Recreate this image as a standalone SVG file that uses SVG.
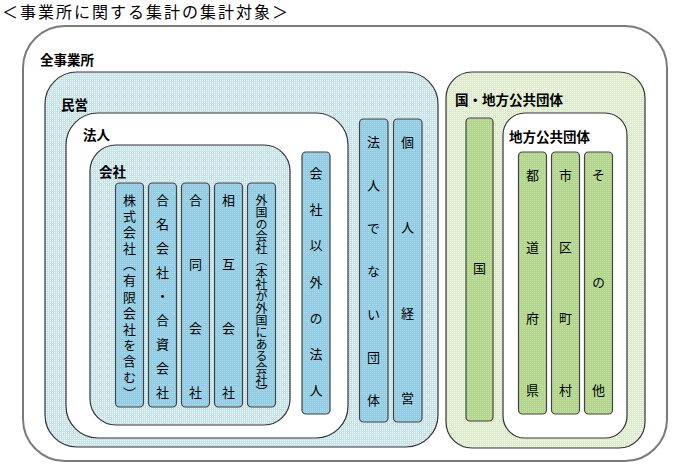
<svg xmlns="http://www.w3.org/2000/svg" width="690" height="470" viewBox="0 0 690 470">
<defs>
<pattern id="pBlueBox" patternUnits="userSpaceOnUse" width="2" height="2">
<rect width="2" height="2" fill="#c4e3ef"/><rect width="1" height="1" fill="#f4fafc"/>
</pattern>
<pattern id="pBlueCol" patternUnits="userSpaceOnUse" width="2" height="2">
<rect width="2" height="2" fill="#92cbe2"/><rect width="1" height="1" fill="#a9dcec"/>
</pattern>
<pattern id="pGreenBox" patternUnits="userSpaceOnUse" width="2" height="2">
<rect width="2" height="2" fill="#dcebc8"/><rect width="1" height="1" fill="#f6faf0"/>
</pattern>
<pattern id="pGreenCol" patternUnits="userSpaceOnUse" width="2" height="2">
<rect width="2" height="2" fill="#b2d58d"/><rect width="1" height="1" fill="#c6e2a6"/>
</pattern>
</defs>
<style>
.title{font-family:"Noto Sans CJK JP","Noto Sans CJK SC",sans-serif;font-size:16px;letter-spacing:2px;fill:#000}
.lbl{font-family:"Noto Sans CJK JP","Noto Sans CJK SC",sans-serif;font-size:13.5px;font-weight:bold;fill:#000}
.v{font-family:"Noto Sans CJK JP","Noto Sans CJK SC",sans-serif;font-size:13px;fill:#000;writing-mode:vertical-rl}
.v12{font-size:12px}
.box{stroke:#333;stroke-width:1.2}
.col{stroke:#444;stroke-width:1.2}
.blueCol{fill:url(#pBlueCol)}
.greenCol{fill:url(#pGreenCol)}
</style>
<rect width="690" height="470" fill="#ffffff"/>
<text class="title" x="2" y="18">＜事業所に関する集計の集計対象＞</text>

<g id="all">
<rect x="23" y="26" width="644" height="435" rx="42" fill="#ffffff" stroke="#7a7a7a" stroke-width="2"/>
<text class="lbl" x="40" y="65">全事業所</text>
</g>

<g id="minei">
<rect class="box" x="45" y="72" width="393" height="375" rx="32" fill="url(#pBlueBox)"/>
<text class="lbl" x="61" y="110">民営</text>
</g>

<g id="houjin">
<rect class="box" x="66" y="113" width="282" height="325" rx="32" fill="#ffffff"/>
<text class="lbl" x="83" y="140">法人</text>
</g>

<g id="kaisha">
<rect class="box" x="90" y="145" width="200" height="280" rx="26" fill="url(#pBlueBox)"/>
<text class="lbl" x="99" y="177">会社</text>
</g>

<g id="kabushiki">
<rect class="col blueCol" x="115.5" y="183" width="28" height="224" rx="4"/>
<text class="v" x="129.5" y="193.5"><tspan x="129.5" y="193.5">株</tspan><tspan x="129.5" y="209.6">式</tspan><tspan x="129.5" y="225.7">会</tspan><tspan x="129.5" y="241.8">社</tspan><tspan x="129.5" y="257.9">（</tspan><tspan x="129.5" y="274">有</tspan><tspan x="129.5" y="290.1">限</tspan><tspan x="129.5" y="306.2">会</tspan><tspan x="129.5" y="322.3">社</tspan><tspan x="129.5" y="338.4">を</tspan><tspan x="129.5" y="354.5">含</tspan><tspan x="129.5" y="370.6">む</tspan><tspan x="129.5" y="386.7">）</tspan></text>
</g>
<g id="gomei">
<rect class="col blueCol" x="148.5" y="183" width="28" height="224" rx="4"/>
<text class="v" x="162.5" y="193.5"><tspan x="162.5" y="193.5">合</tspan><tspan x="162.5" y="217.5">名</tspan><tspan x="162.5" y="241.5">会</tspan><tspan x="162.5" y="265.5">社</tspan><tspan x="162.5" y="289.5">・</tspan><tspan x="162.5" y="313.5">合</tspan><tspan x="162.5" y="337.5">資</tspan><tspan x="162.5" y="361.5">会</tspan><tspan x="162.5" y="385.5">社</tspan></text>
</g>
<g id="godo">
<rect class="col blueCol" x="181.5" y="183" width="28" height="224" rx="4"/>
<text class="v" x="195.5" y="193.5"><tspan x="195.5" y="193.5">合</tspan><tspan x="195.5" y="257.5">同</tspan><tspan x="195.5" y="321.5">会</tspan><tspan x="195.5" y="385.5">社</tspan></text>
</g>
<g id="sogo">
<rect class="col blueCol" x="214.5" y="183" width="28" height="224" rx="4"/>
<text class="v" x="228.5" y="193.5"><tspan x="228.5" y="193.5">相</tspan><tspan x="228.5" y="257.5">互</tspan><tspan x="228.5" y="321.5">会</tspan><tspan x="228.5" y="385.5">社</tspan></text>
</g>
<g id="gaikoku">
<rect class="col blueCol" x="247.5" y="183" width="28" height="224" rx="4"/>
<text class="v v12" x="261.5" y="194"><tspan x="261.5" y="194">外</tspan><tspan x="261.5" y="206">国</tspan><tspan x="261.5" y="218">の</tspan><tspan x="261.5" y="230">会</tspan><tspan x="261.5" y="242">社</tspan><tspan x="261.5" y="254">（</tspan><tspan x="261.5" y="266">本</tspan><tspan x="261.5" y="278">社</tspan><tspan x="261.5" y="290">が</tspan><tspan x="261.5" y="302">外</tspan><tspan x="261.5" y="314">国</tspan><tspan x="261.5" y="326">に</tspan><tspan x="261.5" y="338">あ</tspan><tspan x="261.5" y="350">る</tspan><tspan x="261.5" y="362">会</tspan><tspan x="261.5" y="374">社</tspan><tspan x="261.5" y="386">）</tspan></text>
</g>

<g id="kaisha-igai">
<rect class="col blueCol" x="302" y="152" width="28" height="262" rx="4"/>
<text class="v" x="316" y="166.5"><tspan x="316" y="166.5">会</tspan><tspan x="316" y="202.7">社</tspan><tspan x="316" y="238.9">以</tspan><tspan x="316" y="275.1">外</tspan><tspan x="316" y="311.3">の</tspan><tspan x="316" y="347.5">法</tspan><tspan x="316" y="383.7">人</tspan></text>
</g>

<g id="houjin-denai">
<rect class="col blueCol" x="359.5" y="119" width="28.5" height="303" rx="4"/>
<text class="v" x="373.5" y="135.5"><tspan x="373.5" y="135.5">法</tspan><tspan x="373.5" y="178.5">人</tspan><tspan x="373.5" y="221.5">で</tspan><tspan x="373.5" y="264.5">な</tspan><tspan x="373.5" y="307.5">い</tspan><tspan x="373.5" y="350.5">団</tspan><tspan x="373.5" y="393.5">体</tspan></text>
</g>
<g id="kojin">
<rect class="col blueCol" x="393.5" y="119" width="28.5" height="303" rx="4"/>
<text class="v" x="407.5" y="135.5"><tspan x="407.5" y="135.5">個</tspan><tspan x="407.5" y="220.8">人</tspan><tspan x="407.5" y="306.1">経</tspan><tspan x="407.5" y="391.4">営</tspan></text>
</g>

<g id="kuni-chiho">
<rect class="box" x="446" y="72" width="199" height="376" rx="26" fill="url(#pGreenBox)"/>
<text class="lbl" x="455" y="105">国・地方公共団体</text>
</g>
<g id="kuni">
<rect class="col greenCol" x="466" y="118" width="27" height="303" rx="4"/>
<text class="v" x="479.5" y="261.5">国</text>
</g>

<g id="chiho">
<rect class="box" x="503" y="113" width="124" height="325" rx="22" fill="#ffffff"/>
<text class="lbl" x="509" y="142">地方公共団体</text>
</g>
<g id="todofuken">
<rect class="col greenCol" x="518.5" y="152" width="28" height="262" rx="4"/>
<text class="v" x="532.5" y="168.5"><tspan x="532.5" y="168.5">都</tspan><tspan x="532.5" y="240.2">道</tspan><tspan x="532.5" y="311.9">府</tspan><tspan x="532.5" y="383.6">県</tspan></text>
</g>
<g id="shikuchoson">
<rect class="col greenCol" x="551.5" y="152" width="28" height="262" rx="4"/>
<text class="v" x="565.5" y="168.5"><tspan x="565.5" y="168.5">市</tspan><tspan x="565.5" y="240.2">区</tspan><tspan x="565.5" y="311.9">町</tspan><tspan x="565.5" y="383.6">村</tspan></text>
</g>
<g id="sonota">
<rect class="col greenCol" x="584.5" y="152" width="28" height="262" rx="4"/>
<text class="v" x="598.5" y="168.5"><tspan x="598.5" y="168.5">そ</tspan><tspan x="598.5" y="276">の</tspan><tspan x="598.5" y="383.5">他</tspan></text>
</g>
<g id="connectors"></g>
</svg>
